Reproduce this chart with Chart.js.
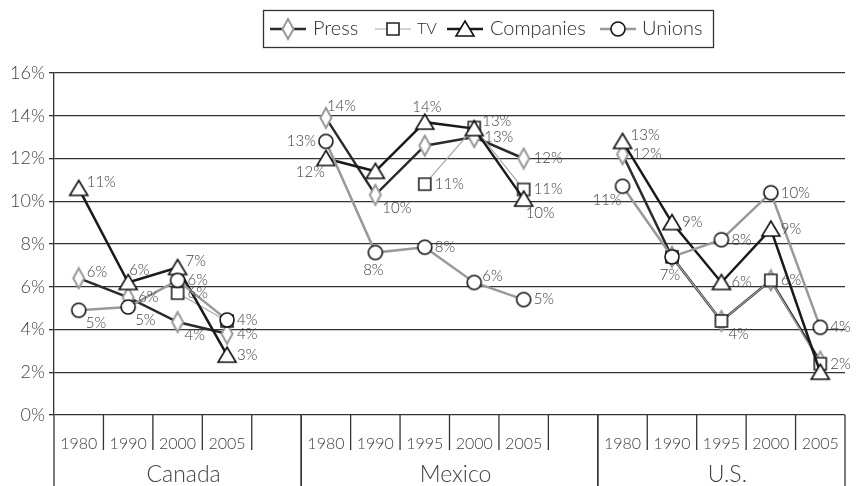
<!DOCTYPE html>
<html>
<head>
<meta charset="utf-8">
<script src="https://cdn.jsdelivr.net/npm/chart.js@4.4.1/dist/chart.umd.min.js"></script>
<style>
  html, body { margin: 0; padding: 0; background: #fff; }
</style>
</head>
<body>
<canvas id="chart" width="857" height="486"></canvas>
<script>
// one slot per year, a blank slot closes each country
const years = ['1980', '1990', '2000', '2005', '',
               '1980', '1990', '1995', '2000', '2005', '',
               '1980', '1990', '1995', '2000', '2005'];
const countries = ['Canada', 'Mexico', 'U.S.'];
const countrySlots = [5, 6, 5];

const press     = [6.4, 5.5, 4.35, 3.8, null, 13.9, 10.3, 12.6, 13.0, 12.0, null, 12.2, 7.4, 4.4, 6.3, 2.5];
const tv        = [null, null, 5.7, 4.4, null, null, null, 10.8, 13.45, 10.55, null, null, 7.4, 4.4, 6.3, 2.4];
const companies = [10.6, 6.2, 6.9, 2.8, null, 12.0, 11.4, 13.7, 13.4, 10.1, null, 12.8, 9.0, 6.2, 8.7, 2.0];
const unions    = [4.9, 5.05, 6.3, 4.45, null, 12.8, 7.6, 7.85, 6.2, 5.4, null, 10.7, 7.4, 8.2, 10.4, 4.1];

// where each value label sits next to its point ('' = no label)
const pressPos     = ['ru', 'r', 'rd', 'r', '', 'u', 'rd', '', 'r', 'r', '', 'r', '', '', '', ''];
const tvPos        = ['', '', 'r', '', '', '', '', 'r', 'ru', 'r', '', '', '', 'rd', 'r', 'r'];
const companiesPos = ['ru', 'u', 'ru', 'r', '', 'ld', '', 'uc', '', 'd', '', 'ru', 'r', 'r', 'r', ''];
const unionsPos    = ['rd', 'rd', 'r', 'r', '', 'l', 'dc', 'r', 'ru', 'r', '', 'ld', 'dc', 'r', 'r', 'r'];

const FONT = 'Lato, "Open Sans", sans-serif';
const INK = '#333';
const TEXT = '#404040';

const offsets = {
  r:  [10, 0, 'left'],
  ru: [8, -6, 'left'],
  rd: [7, 13, 'left'],
  u:  [1, -12, 'left'],
  uc: [2, -15, 'center'],
  d:  [2, 14, 'left'],
  dc: [-2, 18, 'center'],
  ld: [-1, 14, 'right'],
  l:  [-10, 0, 'right']
};

function marker(shape, lineColor, lineWidth) {
  const c = document.createElement('canvas');
  c.width = lineColor ? 36 : 22;
  c.height = 24;
  const g = c.getContext('2d');
  const cx = c.width / 2, cy = 12;
  if (lineColor) {
    g.strokeStyle = lineColor;
    g.lineWidth = lineWidth;
    g.beginPath(); g.moveTo(0, cy); g.lineTo(c.width, cy); g.stroke();
  }
  g.fillStyle = '#fff';
  g.beginPath();
  if (shape === 'diamond') {
    g.strokeStyle = '#999'; g.lineWidth = 2;
    g.moveTo(cx, cy - 10); g.lineTo(cx + 5.5, cy); g.lineTo(cx, cy + 10); g.lineTo(cx - 5.5, cy); g.closePath();
  } else if (shape === 'square') {
    g.strokeStyle = '#222'; g.lineWidth = 1.6;
    g.rect(cx - 6, cy - 6, 12, 12);
  } else if (shape === 'triangle') {
    g.strokeStyle = '#111'; g.lineWidth = 1.6;
    g.moveTo(cx, cy - 8); g.lineTo(cx + 9, cy + 7); g.lineTo(cx - 9, cy + 7); g.closePath();
  } else {
    g.strokeStyle = '#111'; g.lineWidth = 1.6;
    g.arc(cx, cy, 7, 0, Math.PI * 2);
  }
  g.fill(); g.stroke();
  return c;
}

const series = [
  { label: 'Press', data: press, pos: pressPos, shape: 'diamond', color: '#2b2b2b', width: 2.5, order: 4 },
  { label: 'TV', data: tv, pos: tvPos, shape: 'square', color: '#aaa', width: 1.2, order: 3 },
  { label: 'Companies', data: companies, pos: companiesPos, shape: 'triangle', color: '#1a1a1a', width: 2.5, order: 2 },
  { label: 'Unions', data: unions, pos: unionsPos, shape: 'circle', color: '#999', width: 2.5, order: 1 }
];

const legendLayout = [
  { icon: 288, text: 313, size: 20 },
  { icon: 393, text: 417, size: 16 },
  { icon: 465, text: 490, size: 20 },
  { icon: 618, text: 642, size: 20 }
];

const valueLabels = {
  id: 'valueLabels',
  afterDatasetsDraw(chart) {
    const ctx = chart.ctx;
    ctx.save();
    ctx.font = '300 15px ' + FONT;
    ctx.fillStyle = TEXT;
    ctx.textBaseline = 'middle';
    chart.data.datasets.forEach((ds, di) => {
      const meta = chart.getDatasetMeta(di);
      ds.data.forEach((v, i) => {
        const p = ds.labelPos[i];
        if (v === null || !p) return;
        const [dx, dy, align] = offsets[p];
        const pt = meta.data[i];
        ctx.textAlign = align;
        ctx.fillText(Math.round(v) + '%', pt.x + dx, pt.y + dy);
      });
    });
    ctx.restore();
  }
};

const countryTable = {
  id: 'countryTable',
  afterDraw(chart) {
    const ctx = chart.ctx, xs = chart.scales.x, area = chart.chartArea;
    const step = xs.getPixelForValue(1) - xs.getPixelForValue(0);
    ctx.save();
    ctx.strokeStyle = INK;
    ctx.lineWidth = 1.3;
    ctx.fillStyle = TEXT;
    ctx.font = '300 23px ' + FONT;
    ctx.textAlign = 'center';
    ctx.textBaseline = 'middle';
    let idx = 0;
    countries.forEach((name, g) => {
      const first = idx, last = idx + countrySlots[g] - 1;
      const left = xs.getPixelForValue(first) - step / 2;
      const right = xs.getPixelForValue(last) + step / 2;
      ctx.beginPath();
      ctx.moveTo(left, area.bottom); ctx.lineTo(left, chart.height);
      ctx.moveTo(right, area.bottom); ctx.lineTo(right, chart.height);
      for (let i = first; i < last; i++) {
        const bx = xs.getPixelForValue(i) + step / 2;
        ctx.moveTo(bx, area.bottom); ctx.lineTo(bx, area.bottom + 35);
      }
      ctx.stroke();
      ctx.fillText(name, (left + right) / 2 + 6, area.bottom + 60);
      idx += countrySlots[g];
    });
    ctx.restore();
  }
};

const boxedLegend = {
  id: 'boxedLegend',
  afterDraw(chart) {
    const ctx = chart.ctx;
    ctx.save();
    ctx.strokeStyle = INK;
    ctx.lineWidth = 1.3;
    ctx.strokeRect(263.5, 10.5, 450, 37);
    ctx.fillStyle = '#2a2a2a';
    ctx.textBaseline = 'middle';
    chart.data.datasets.forEach((ds, i) => {
      const img = ds.legendIcon, spot = legendLayout[i];
      ctx.drawImage(img, spot.icon - img.width / 2, 29 - img.height / 2);
      ctx.font = '300 ' + spot.size + 'px ' + FONT;
      ctx.fillText(ds.label, spot.text, 29);
    });
    ctx.restore();
  }
};

new Chart(document.getElementById('chart'), {
  type: 'line',
  data: {
    labels: years,
    datasets: series.map(s => ({
      label: s.label,
      data: s.data,
      labelPos: s.pos,
      order: s.order,
      borderColor: s.color,
      borderWidth: s.width,
      pointStyle: marker(s.shape),
      legendIcon: marker(s.shape, s.color, s.width),
      pointRadius: 7,
      pointHoverRadius: 7,
      tension: 0,
      spanGaps: false,
      clip: false
    }))
  },
  options: {
    responsive: false,
    devicePixelRatio: 1,
    animation: false,
    layout: { padding: { top: 73, right: 12, left: 0, bottom: 0 } },
    plugins: { legend: { display: false }, tooltip: { enabled: false } },
    scales: {
      x: {
        offset: true,
        grid: { display: false },
        border: { display: false },
        ticks: { color: TEXT, font: { family: FONT, size: 16, weight: 300 }, padding: 11, maxRotation: 0, autoSkip: false },
        afterFit(s) { s.height = 71; }
      },
      y: {
        min: 0,
        max: 16,
        ticks: { stepSize: 2, callback: v => v + '%', color: TEXT, font: { family: FONT, size: 18, weight: 300 }, padding: 4 },
        grid: { color: INK, lineWidth: 1.3, tickLength: 5, tickColor: INK },
        border: { color: INK, width: 1.3 },
        afterFit(s) { s.width = 54; }
      }
    }
  },
  plugins: [valueLabels, countryTable, boxedLegend]
});
</script>
</body>
</html>
